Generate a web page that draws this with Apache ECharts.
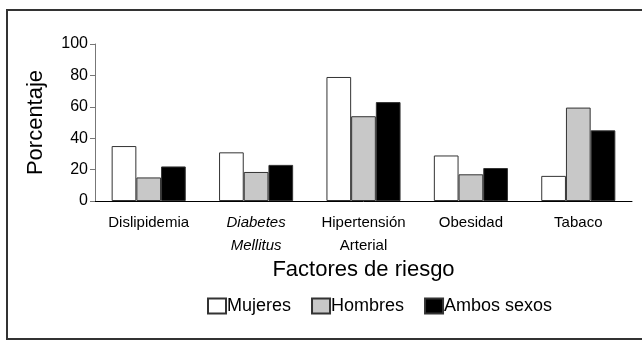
<!DOCTYPE html>
<html>
<head>
<meta charset="utf-8">
<script src="https://cdn.jsdelivr.net/npm/echarts@6/dist/echarts.min.js"></script>
<style>
  html, body { margin: 0; padding: 0; background: #fff; }
  #chart { width: 642px; height: 341px; }
</style>
</head>
<body>
<div id="chart"></div>
<script>
const categories = ['Dislipidemia', 'Diabetes Mellitus', 'Hipertensión Arterial', 'Obesidad', 'Tabaco'];
const mujeres = [35, 31, 79, 29, 16];
const hombres = [15, 18.5, 54, 17, 59.5];
const ambos = [22, 23, 63, 21, 45];
const yTicks = [0, 20, 40, 60, 80, 100];

const chart = echarts.init(document.getElementById('chart'));

const font = 'Liberation Sans, Arial, sans-serif';
const border = { borderColor: '#333', borderWidth: 1 };

const option = {
  animation: false,
  textStyle: { fontFamily: font, color: '#000' },
  graphic: [{
    type: 'rect',
    shape: { x: 7, y: 10, width: 640, height: 329 },
    style: { fill: 'none', stroke: '#333', lineWidth: 2 }
  }],
  grid: { left: 95, right: 10, top: 44, bottom: 140 },
  legend: {
    left: 202,
    top: 292,
    icon: 'rect',
    itemWidth: 18,
    itemHeight: 15,
    itemGap: 20,
    textStyle: { fontSize: 18, color: '#000', fontFamily: font, padding: [0, 0, 0, -4] },
    data: ['Mujeres', 'Hombres', 'Ambos sexos']
  },
  xAxis: {
    type: 'category',
    data: categories,
    name: 'Factores de riesgo',
    nameLocation: 'middle',
    nameGap: 58,
    nameTextStyle: { fontSize: 22, color: '#000', verticalAlign: 'top' },
    axisLine: { lineStyle: { color: '#000', width: 1 } },
    axisTick: { length: 5, lineStyle: { color: '#000' } },
    axisLabel: {
      fontSize: 15,
      color: '#000',
      margin: 10,
      lineHeight: 23,
      interval: 0,
      formatter: function (v) {
        if (v === 'Diabetes Mellitus') return '{i|Diabetes}\n{i|Mellitus}';
        if (v === 'Hipertensión Arterial') return 'Hipertensión\nArterial';
        return v;
      },
      rich: { i: { fontStyle: 'italic', fontSize: 15, lineHeight: 23, color: '#000' } }
    }
  },
  yAxis: {
    type: 'value',
    min: 0,
    max: 100,
    interval: 20,
    name: 'Porcentaje',
    nameLocation: 'middle',
    nameGap: 48,
    nameTextStyle: { fontSize: 22, color: '#000' },
    splitLine: { show: false },
    axisLine: { show: true, lineStyle: { color: '#777' } },
    axisTick: { show: true, length: 5, lineStyle: { color: '#777' } },
    axisLabel: {
      fontSize: 16,
      color: '#000',
      margin: 7,
      formatter: function (v) { return yTicks.indexOf(v) >= 0 ? String(v) : ''; }
    }
  },
  series: [
    { name: 'Mujeres', type: 'bar', data: mujeres, barGap: '0%', barCategoryGap: '31%',
      itemStyle: Object.assign({ color: '#fff' }, border) },
    { name: 'Hombres', type: 'bar', data: hombres, barGap: '0%', barCategoryGap: '31%',
      itemStyle: Object.assign({ color: '#c8c8c8' }, border) },
    { name: 'Ambos sexos', type: 'bar', data: ambos, barGap: '0%', barCategoryGap: '31%',
      itemStyle: Object.assign({ color: '#000' }, border) }
  ]
};

chart.setOption(option);
</script>
</body>
</html>
